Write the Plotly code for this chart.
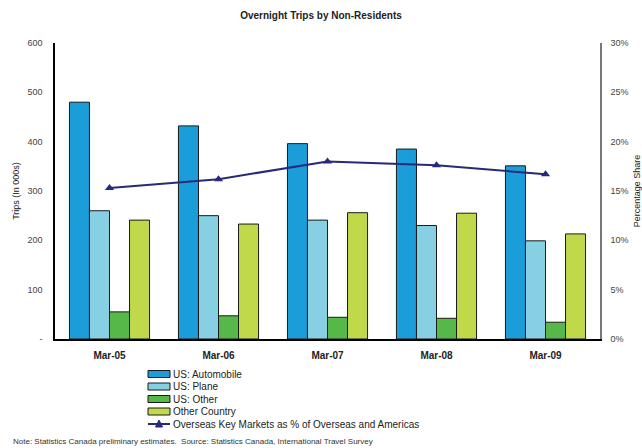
import plotly.graph_objects as go

categories = ["Mar-05", "Mar-06", "Mar-07", "Mar-08", "Mar-09"]
us_auto = [480, 432, 396, 385, 351]
us_plane = [260, 250, 241, 230, 199]
us_other = [55, 47, 44, 42, 34]
other_country = [241, 233, 256, 255, 213]
overseas_share = [0.153, 0.162, 0.180, 0.176, 0.167]

bar_series = [
    ("US: Automobile", us_auto, "#1A9DD9"),
    ("US: Plane", us_plane, "#87D0E3"),
    ("US: Other", us_other, "#55B848"),
    ("Other Country", other_country, "#C0D94A"),
]
line_name = "Overseas Key Markets as % of Overseas and Americas"
line_color = "#262A78"

W, H = 642, 448
L, R, T, B = 55, 42, 43, 109
FONT = "Liberation Sans, Arial, sans-serif"
NARROW = "Liberation Sans Narrow, Liberation Sans, Arial, sans-serif"

fig = go.Figure()
for name, vals, col in bar_series:
    fig.add_trace(go.Bar(
        x=categories, y=vals, name=name, marker_color=col,
        marker_line=dict(color="#1a1a1a", width=1), showlegend=False,
    ))
fig.add_trace(go.Scatter(
    x=categories, y=overseas_share, name=line_name, yaxis="y2",
    mode="lines+markers", line=dict(color=line_color, width=2),
    marker=dict(symbol="triangle-up", size=8, color=line_color),
    showlegend=False,
))

fig.update_layout(
    width=W, height=H,
    margin=dict(l=L, r=R, t=T, b=B, autoexpand=False),
    paper_bgcolor="white", plot_bgcolor="white",
    barmode="group", bargap=0.265, bargroupgap=0,
    font=dict(family=FONT, size=9, color="#333"),
    title=dict(text="<b>Overnight Trips by Non-Residents</b>", x=0.5, xanchor="center",
               y=1 - 15 / H, yanchor="middle",
               font=dict(family=NARROW, size=10, color="#222")),
    xaxis=dict(showline=True, linecolor="black", linewidth=1.5, ticks="",
               tickfont=dict(family=NARROW, size=10, color="#222", weight="bold"),
               ticklabelstandoff=6, mirror=False, automargin=False),
    yaxis=dict(range=[0, 600], tickvals=[0, 100, 200, 300, 400, 500, 600],
               ticktext=["-", "100", "200", "300", "400", "500", "600"],
               showgrid=False, zeroline=False, showline=True, linecolor="black",
               linewidth=1.5, ticks="", ticklabelstandoff=9, automargin=False,
               tickfont=dict(family=NARROW, size=9, color="#444"),
               title=dict(text="Trips (In 000s)", standoff=6,
                          font=dict(family=NARROW, size=9, color="#222"))),
    yaxis2=dict(range=[0, 0.30], overlaying="y", side="right", tickformat=".0%",
                dtick=0.05, showgrid=False, zeroline=False, showline=True,
                linecolor="#777", linewidth=1.5, ticks="", ticklabelstandoff=7,
                automargin=False,
                tickfont=dict(family=NARROW, size=9, color="#444"),
                title=dict(text="Percentage Share", standoff=14,
                           font=dict(family=NARROW, size=9, color="#222"))),
)

# Manual legend (compact, like the original)
def px_x(x):
    return (x - L) / (W - L - R)

def px_y(y):
    return (H - B - y) / (H - T - B)

leg_x0, leg_x1 = 148, 170
ys = [374, 386.5, 399, 411.5]
for (name, vals, col), yc in zip(bar_series, ys):
    fig.add_shape(type="rect", xref="paper", yref="paper",
                  x0=px_x(leg_x0), x1=px_x(leg_x1), y0=px_y(yc + 3.5), y1=px_y(yc - 3.5),
                  fillcolor=col, line=dict(color="#1a1a1a", width=1))
    fig.add_annotation(text=name, xref="paper", yref="paper", x=px_x(leg_x1 + 1),
                       y=px_y(yc), xanchor="left", yanchor="middle", showarrow=False,
                       font=dict(family=FONT, size=10, color="#222"))
yl = 424
fig.add_shape(type="line", xref="paper", yref="paper",
              x0=px_x(leg_x0), x1=px_x(leg_x1), y0=px_y(yl), y1=px_y(yl),
              line=dict(color=line_color, width=2))
fig.add_shape(type="path", xref="paper", yref="paper",
              path=f"M {px_x(155.5)} {px_y(yl + 3)} L {px_x(162.5)} {px_y(yl + 3)} L {px_x(159)} {px_y(yl - 4)} Z",
              fillcolor=line_color, line=dict(color=line_color, width=1))
fig.add_annotation(text=line_name, xref="paper", yref="paper", x=px_x(leg_x1 + 1),
                   y=px_y(yl), xanchor="left", yanchor="middle", showarrow=False,
                   font=dict(family=FONT, size=10, color="#222"))

fig.add_annotation(
    text="Note: Statistics Canada preliminary estimates.  Source: Statistics Canada, International Travel Survey",
    xref="paper", yref="paper", x=px_x(11), y=px_y(441), xanchor="left", yanchor="middle",
    showarrow=False, font=dict(family=FONT, size=8, color="#333"))

fig.write_html("out.html")
